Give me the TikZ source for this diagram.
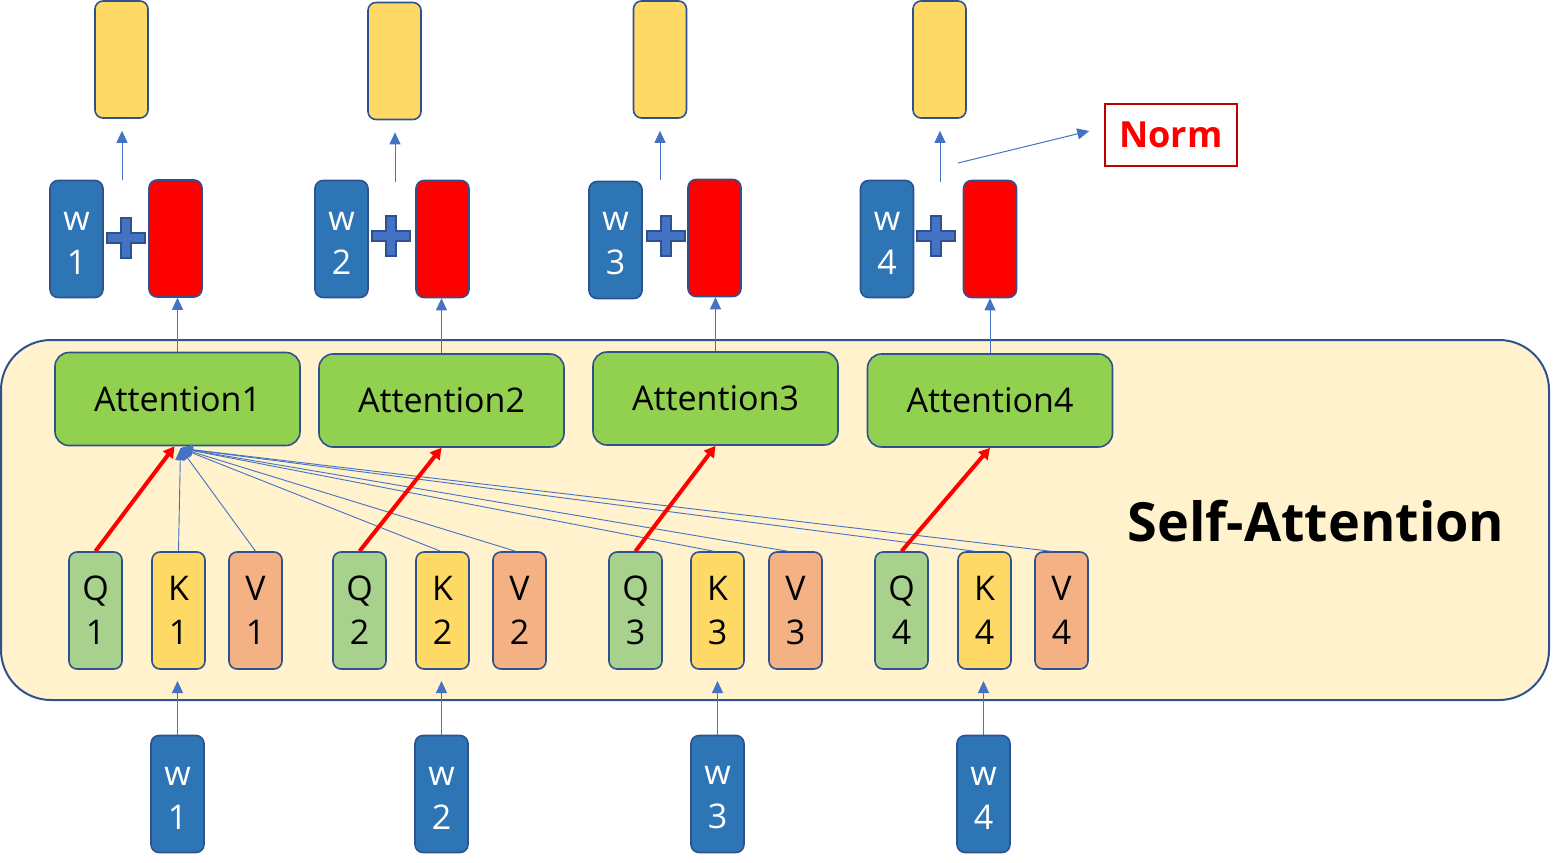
\documentclass[tikz,border=0pt]{standalone}
\usepackage{fontspec}
\setmainfont{Open Sans}
\usetikzlibrary{arrows.meta}
\definecolor{bdr}{HTML}{2F528F}
\definecolor{ablue}{HTML}{4472C4}
\definecolor{wblue}{HTML}{2E75B6}
\definecolor{yel}{HTML}{FFD966}
\definecolor{grn}{HTML}{92D050}
\definecolor{qgrn}{HTML}{A9D18E}
\definecolor{org}{HTML}{F4B183}
\definecolor{cream}{HTML}{FFF2CC}
\definecolor{nred}{HTML}{C00000}
\definecolor{pred}{HTML}{FF0000}
\tikzset{
  tall/.style={draw=bdr, line width=1.6pt, rounded corners=8pt, minimum width=53pt, minimum height=117pt, inner sep=0pt, align=center, font=\fontsize{34}{44}\selectfont},
  wbox/.style={tall, fill=wblue, text=white, text height=70pt},
  ybox/.style={tall, fill=yel},
  rbox/.style={tall, fill=pred},
  qbox/.style={tall, fill=qgrn},
  kbox/.style={tall, fill=yel},
  vbox/.style={tall, fill=org},
  attbox/.style={draw=bdr, line width=1.6pt, rounded corners=14pt, fill=grn, minimum width=245pt, minimum height=93pt, inner sep=0pt, font=\fontsize{34}{40}\selectfont},
  barrow/.style={draw=ablue, line width=1pt, -{Triangle[length=12pt,width=11pt]}},
  thin/.style={draw=ablue, line width=0.9pt, -{Triangle[length=12pt,width=10pt]}},
  rarrow/.style={draw=pred, line width=4pt, -{Triangle[length=11pt,width=12pt]}},
  plus/.pic={\draw[fill=ablue,draw=bdr,line width=1.2pt] (-19,-5)--(-5,-5)--(-5,-20)--(5,-20)--(5,-5)--(19,-5)--(19,5)--(5,5)--(5,20)--(-5,20)--(-5,5)--(-19,5)--cycle;}
}
\begin{document}
\begin{tikzpicture}[x=1pt,y=-1pt]
\useasboundingbox (0,0) rectangle (1562,862);
% big self-attention container
\draw[draw=bdr, line width=2pt, fill=cream, rounded corners=50pt] (1,340) rectangle (1549,700);
\node[font=\fontsize{54}{60}\selectfont\bfseries] (SA) at (1316,521) {Self-Attention};

% top yellow outputs
\node[ybox] (Y1) at (121.5,59.5) {};
\node[ybox] (Y2) at (394.5,61) {};
\node[ybox] (Y3) at (660,59.5) {};
\node[ybox] (Y4) at (939.5,59.5) {};

% w + red row
\node[wbox] (W1) at (76.5,239) {w\\1};
\node[rbox] (R1) at (175.5,238.5) {};
\node[wbox] (W2) at (341.5,239) {w\\2};
\node[rbox] (R2) at (442.5,239) {};
\node[wbox] (W3) at (615.5,240) {w\\3};
\node[rbox] (R3) at (714.5,238) {};
\node[wbox] (W4) at (887,239) {w\\4};
\node[rbox] (R4) at (990,239) {};
\pic at (126,238) {plus};
\pic at (391,236) {plus};
\pic at (666,236) {plus};
\pic at (936,236) {plus};

% arrows to yellow outputs
\coordinate (s1) at (122,180);
\coordinate (s2) at (395,182);
\coordinate (s3) at (660,180);
\coordinate (s4) at (940,182);
\draw[barrow] (s1) -- ([yshift=-12pt]Y1.south -| s1);
\draw[barrow] (s2) -- ([yshift=-12pt]Y2.south -| s2);
\draw[barrow] (s3) -- ([yshift=-12pt]Y3.south -| s3);
\draw[barrow] (s4) -- ([yshift=-12pt]Y4.south -| s4);

% Norm
\node[draw=nred, line width=1.5pt, minimum width=132pt, minimum height=62pt, text=pred, font=\fontsize{36}{40}\selectfont\bfseries] (N) at (1171,135) {Norm};
\coordinate (ns) at (958,163);
\draw[barrow] (ns) -- ([xshift=-15pt,yshift=4pt]N.west);

% attention boxes
\node[attbox] (A1) at (177.5,399) {Attention1};
\node[attbox] (A2) at (441.5,400.5) {Attention2};
\node[attbox] (A3) at (715.5,398.5) {Attention3};
\node[attbox] (A4) at (990,400.5) {Attention4};
\draw[barrow] (A1.north) -- (A1.north |- R1.south);
\draw[barrow] (A2.north) -- (A2.north |- R2.south);
\draw[barrow] (A3.north) -- (A3.north |- R3.south);
\draw[barrow] (A4.north) -- (A4.north |- R4.south);

% Q K V
\node[qbox] (Q1) at (95.5,610.5) {Q\\1};
\node[kbox] (K1) at (178.5,610.5) {K\\1};
\node[vbox] (V1) at (255.5,610.5) {V\\1};
\node[qbox] (Q2) at (359.5,610.5) {Q\\2};
\node[kbox] (K2) at (442.5,610.5) {K\\2};
\node[vbox] (V2) at (519.5,610.5) {V\\2};
\node[qbox] (Q3) at (635.5,610.5) {Q\\3};
\node[kbox] (K3) at (717.5,610.5) {K\\3};
\node[vbox] (V3) at (795.5,610.5) {V\\3};
\node[qbox] (Q4) at (901.5,610.5) {Q\\4};
\node[kbox] (K4) at (984.5,610.5) {K\\4};
\node[vbox] (V4) at (1061.5,610.5) {V\\4};

% thin lines to Attention1
\coordinate (hub) at ([xshift=3pt,yshift=-2pt]A1.south);
\draw[thin] (K1.north) -- (hub);
\draw[thin] (V1.north) -- (hub);
\draw[thin] ([xshift=-2pt]K2.north) -- (hub);
\draw[thin] ([xshift=-4pt]V2.north) -- (hub);
\draw[thin] ([xshift=-4pt]K3.north) -- (hub);
\draw[thin] ([xshift=-8pt]V3.north) -- (hub);
\draw[thin] ([xshift=-10pt]K4.north) -- (hub);
\draw[thin] ([xshift=-11pt]V4.north) -- (hub);

% red arrows
\draw[rarrow] (Q1.north) -- ([xshift=-3pt]A1.south);
\draw[rarrow] (Q2.north) -- (A2.south);
\draw[rarrow] (Q3.north) -- (A3.south);
\draw[rarrow] (Q4.north) -- (A4.south);

% bottom inputs
\node[wbox] (B1) at (177.5,794) {w\\1};
\node[wbox] (B2) at (441.5,794) {w\\2};
\node[wbox] (B3) at (717.5,794) {w\\3};
\node[wbox] (B4) at (983.5,794) {w\\4};
\coordinate (t1) at (177.5,681);
\coordinate (t2) at (441.5,681);
\coordinate (t3) at (717.5,681);
\coordinate (t4) at (983.5,681);
\draw[barrow] (B1.north) -- (t1);
\draw[barrow] (B2.north) -- (t2);
\draw[barrow] (B3.north) -- (t3);
\draw[barrow] (B4.north) -- (t4);
\end{tikzpicture}
\end{document}
